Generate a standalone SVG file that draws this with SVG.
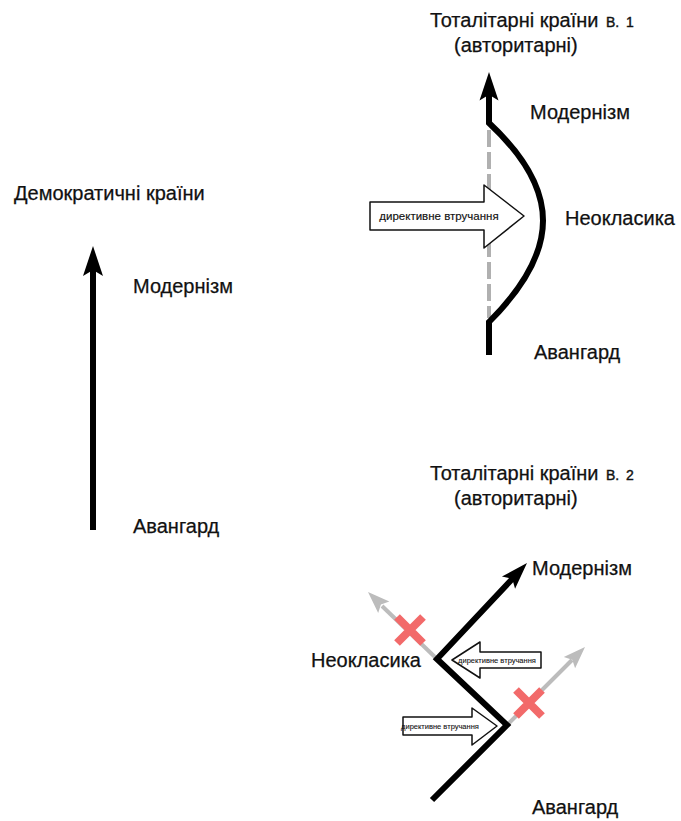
<svg xmlns="http://www.w3.org/2000/svg" xmlns:xlink="http://www.w3.org/1999/xlink" width="681" height="821" viewBox="0 0 681 821">
<style>
text{font-family:"Liberation Sans",Arial,sans-serif;fill:#111;stroke:#111;stroke-width:0.25}
.t{font-size:20px}
.s{font-size:14px;stroke-width:0.4}
.blk{fill:none;stroke:#000;stroke-width:6;stroke-linejoin:miter}
.gry{fill:none;stroke:#bcbcbc;stroke-width:4}
.x{stroke:#f26a6a;stroke-width:8;stroke-linecap:butt}
.ba{fill:#fff;stroke:#111;stroke-width:1.5;stroke-linejoin:round}
.bt{font-size:11.5px;text-anchor:middle;stroke-width:0.15}
.st{font-size:7.5px;text-anchor:middle;stroke-width:0.1}
</style>
<defs>
<path id="ah" d="M0,0 L-30,-10 L-24,0 L-30,10 Z" fill="#000"/>
<path id="ahg" d="M0,0 L-22,-8 L-18,0 L-22,8 Z" fill="#bcbcbc"/>
</defs>
<rect width="681" height="821" fill="#fff"/>

<g id="democratic">
<text class="t" x="14" y="200">Демократичні країни</text>
<line class="blk" x1="93" y1="530" x2="93" y2="262"/>
<use xlink:href="#ah" transform="translate(93,246) rotate(-90)"/>
<text class="t" x="133" y="293">Модернізм</text>
<text class="t" x="133" y="533">Авангард</text>
</g>

<g id="totalitarian1">
<text class="t" x="430" y="27">Тоталітарні країни</text>
<text class="s" x="606" y="27">В.</text>
<text class="s" x="626" y="27">1</text>
<text class="t" x="454" y="52">(авторитарні)</text>
<line x1="489" y1="130" x2="489" y2="318" stroke="#b0b0b0" stroke-width="4" stroke-dasharray="17 5"/>
<path class="blk" d="M489,355 L489,322 C561,250 561,190 489,123 L489,88" stroke-width="5.5"/>
<use xlink:href="#ah" transform="translate(489,72) rotate(-90) scale(0.95)"/>
<path class="ba" d="M370,202 L484,202 L484,185 L524,216 L484,248 L484,230 L370,230 Z"/>
<text class="bt" x="439" y="220">директивне втручання</text>
<text class="t" x="530" y="119">Модернізм</text>
<text class="t" x="565" y="225">Неокласика</text>
<text class="t" x="534" y="359">Авангард</text>
</g>

<g id="totalitarian2">
<text class="t" x="430" y="480">Тоталітарні країни</text>
<text class="s" x="606" y="480">В.</text>
<text class="s" x="626" y="480">2</text>
<text class="t" x="454" y="505">(авторитарні)</text>
<line class="gry" x1="437" y1="659" x2="382" y2="606"/>
<use xlink:href="#ahg" transform="translate(368,592) rotate(-135.8)"/>
<line class="gry" x1="507" y1="725" x2="572" y2="660"/>
<use xlink:href="#ahg" transform="translate(585,647) rotate(-45)"/>
<path class="blk" d="M432,800 L507,725 L437,659 L514,577" stroke-width="5"/>
<use xlink:href="#ah" transform="translate(527,563) rotate(-46.8) scale(0.9)"/>
<path class="x" d="M397,617 L423,643 M423,617 L397,643"/>
<path class="x" d="M516,690 L542,716 M542,690 L516,716"/>
<path class="ba" d="M541,652 L480,652 L480,642 L452,660 L480,678 L480,668 L541,668 Z"/>
<text class="st" x="497" y="663">директивне втручання</text>
<path class="ba" d="M403,717 L472,717 L472,708 L497,726 L472,745 L472,735 L403,735 Z"/>
<text class="st" x="440" y="729">директивне втручання</text>
<text class="t" x="532" y="575">Модернізм</text>
<text class="t" x="311" y="667">Неокласика</text>
<text class="t" x="532" y="814">Авангард</text>
</g>
</svg>
